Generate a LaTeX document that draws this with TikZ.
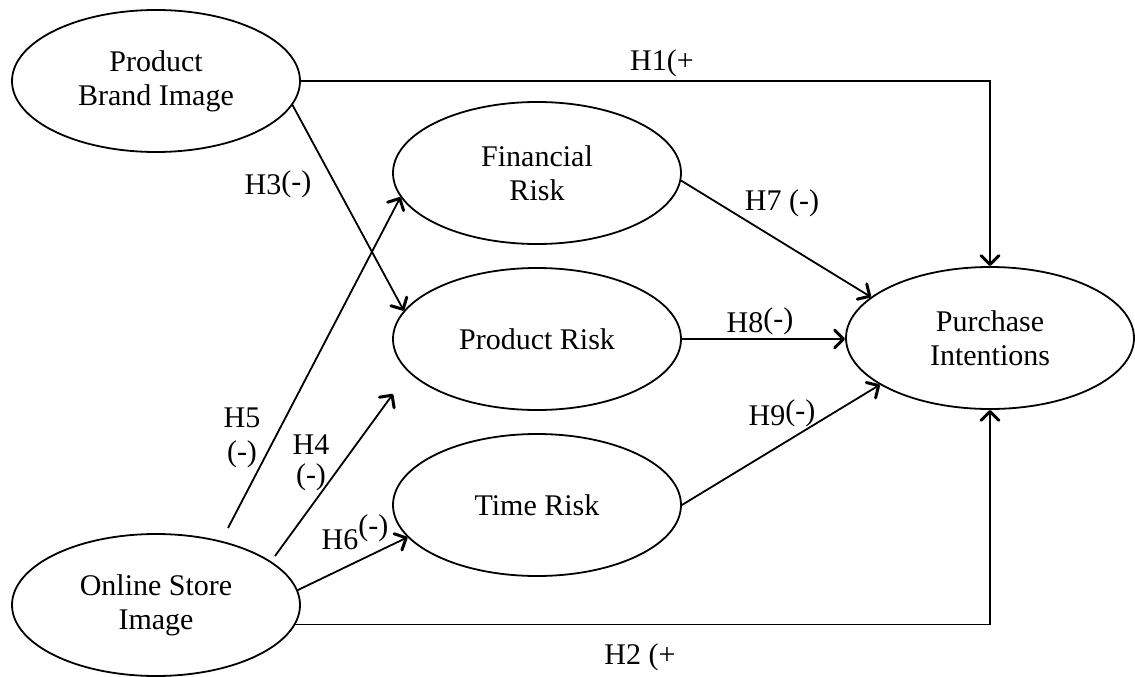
\documentclass[tikz,border=0pt]{standalone}
\usepackage{fontspec}
\setmainfont{Liberation Serif}
\usetikzlibrary{shapes.geometric,arrows.meta,calc}
\begin{document}
\begin{tikzpicture}[x=1pt,y=-1pt,
  construct/.style={draw, ellipse, line width=1.8pt, minimum width=288pt, minimum height=142pt, inner sep=0pt, align=center, font=\fontsize{30}{34}\selectfont},
  conn/.style={draw, line width=1.8pt, -{Straight Barb[length=9pt,width=18pt,line width=3pt,round]}},
  hlabel/.style={inner sep=0pt, align=center, font=\fontsize{30}{34}\selectfont}]
\useasboundingbox (0,0) rectangle (1135,677);
\fill[white] (0,0) rectangle (1135,677);
% constructs
\node[construct] (pbi) at (156,81) {Product\\Brand Image};
\node[construct] (fr) at (537,173) {Financial\\Risk};
\node[construct] (pr) at (537,339) {Product Risk};
\node[construct] (tr) at (537,505) {Time Risk};
\node[construct] (osi) at (156,605) {Online Store\\Image};
\node[construct] (pi) at (990,338) {Purchase\\Intentions};
% free ends
\coordinate (h5s) at (228,528);
\coordinate (h4s) at (275,556);
\coordinate (h4e) at (393,394);
% connectors
\draw[conn] (pbi.east) -- (pbi.east -| pi.north) -- (pi.north);
\draw[conn] (osi.-8) -- (osi.-8 -| pi.south) -- (pi.south);
\draw[conn] (pbi.-10) -- (pr.168);
\draw[conn] (h5s) -- (fr.190);
\draw[conn] (h4s) -- (h4e);
\draw[conn] (osi.6) -- (tr.194);
\draw[conn] (fr.-3) -- (pi.161);
\draw[conn] (pr.east) -- (pr.east -| pi.west);
\draw[conn] (tr.east) -- (pi.203);
% labels
\node[hlabel] (l1) at (662,63) {H1(+};
\node[hlabel] (l2) at (640,657) {H2 (+};
\node[hlabel] (l3) at (278,184) {H3\raisebox{3pt}{(-)}};
\node[hlabel] (l5) at (242,438) {H5\\(-)};
\node[hlabel] (l4) at (311,463) {H4\\[-4pt](-)};
\node[hlabel] (l6) at (355,532) {H6\raisebox{14pt}{(-)}};
\node[hlabel] (l7) at (782,203) {H7 (-)};
\node[hlabel] (l8) at (760,321) {H8\raisebox{4pt}{(-)}};
\node[hlabel] (l9) at (782,413) {H9\raisebox{5pt}{(-)}};
\end{tikzpicture}
\end{document}
